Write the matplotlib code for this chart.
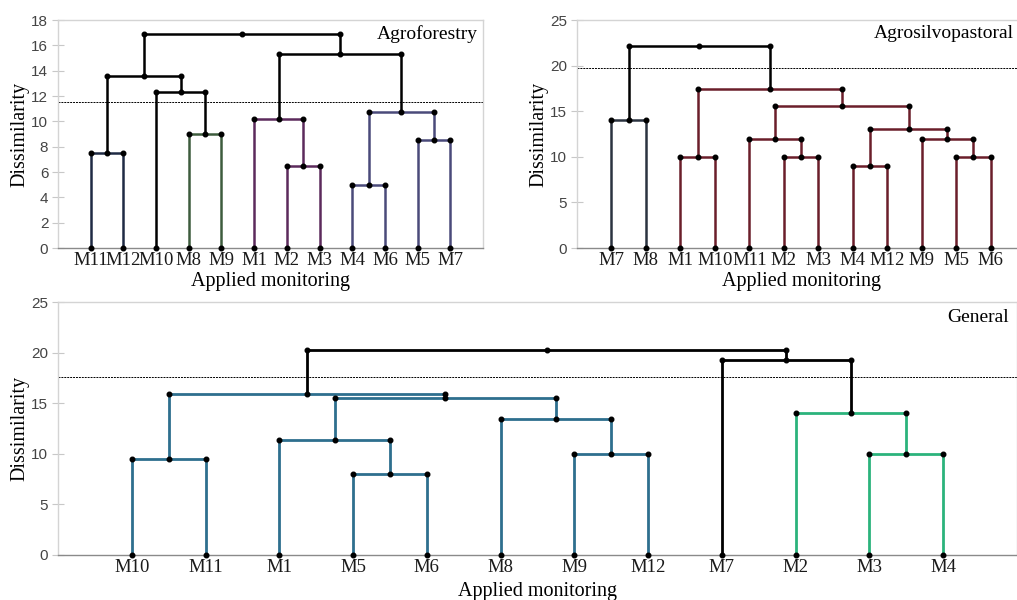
import matplotlib
matplotlib.use("Agg")
import matplotlib.pyplot as plt

# Agroforestry
af_leaves = ["M11", "M12", "M10", "M8", "M9", "M1", "M2", "M3", "M4", "M6", "M5", "M7"]
# merges: left node, right node, height, colour - nodes 0..11 are leaves, 12+ are merges
af_left = [0, 3, 6, 8, 10, 5, 15, 2, 12, 17, 20]
af_right = [1, 4, 7, 9, 11, 14, 16, 13, 19, 18, 21]
af_height = [7.5, 9.0, 6.5, 5.0, 8.5, 10.2, 10.7, 12.3, 13.6, 15.35, 16.9]
af_color = ["#1f2a44", "#3d5c3d", "#5c2a5c", "#4a4a7a", "#4a4a7a", "#5c2a5c",
            "#4a4a7a", "black", "black", "black", "black"]
af_cut = 11.5

# Agrosilvopastoral
asp_leaves = ["M7", "M8", "M1", "M10", "M11", "M2", "M3", "M4", "M12", "M9", "M5", "M6"]
asp_left = [0, 2, 5, 7, 10, 4, 9, 15, 17, 13, 12]
asp_right = [1, 3, 6, 8, 11, 14, 16, 18, 19, 20, 21]
asp_height = [14.0, 10.0, 10.0, 9.0, 10.0, 12.0, 12.0, 13.0, 15.6, 17.45, 22.1]
asp_color = ["#2b3340"] + ["#6b1e2a"] * 9 + ["black"]
asp_cut = 19.7

# General
gen_leaves = ["M10", "M11", "M1", "M5", "M6", "M8", "M9", "M12", "M7", "M2", "M3", "M4"]
gen_left = [0, 3, 6, 10, 2, 5, 9, 16, 12, 8, 20]
gen_right = [1, 4, 7, 11, 13, 14, 15, 17, 19, 18, 21]
gen_height = [9.5, 8.0, 10.0, 10.0, 11.35, 13.4, 14.05, 15.55, 15.9, 19.25, 20.25]
gen_color = ["#2e6f8e", "#2e6f8e", "#2e6f8e", "#2bb37c", "#2e6f8e", "#2e6f8e",
             "#2bb37c", "#2e6f8e", "#2e6f8e", "black", "black"]
gen_cut = 17.6

SERIF = "Liberation Serif"
SANS = "Liberation Sans"


def dendro(ax, leaves, left, right, height, color, cut, ymax, ystep, title, lw, toff):
    n = len(leaves)
    xs = {i: i + 1 for i in range(n)}
    hs = {i: 0.0 for i in range(n)}
    for k in range(len(left)):
        a, b, h, c = left[k], right[k], height[k], color[k]
        xa, xb = xs[a], xs[b]
        ax.plot([xa, xa, xb, xb], [hs[a], h, h, hs[b]], color=c, lw=lw,
                solid_joinstyle="miter", zorder=2)
        xm = (xa + xb) / 2
        ax.plot([xa, xm, xb], [h, h, h], "o", color="black", ms=3.3, zorder=3)
        xs[n + k] = xm
        hs[n + k] = h
    ax.plot(range(1, n + 1), [0] * n, "o", color="black", ms=3.3, zorder=3,
            clip_on=False)
    ax.axhline(cut, color="black", lw=0.7, ls=(0, (2, 1)), zorder=1)

    ax.set_xlim(0, n + 1)
    ax.set_ylim(0, ymax)
    ax.set_yticks(range(0, ymax + 1, ystep))
    ax.set_xticks(range(1, n + 1))
    ax.set_xticklabels(leaves, fontfamily=SERIF, fontsize=13.5, color="#1a1a1a")
    ax.tick_params(axis="x", length=0, pad=3)
    ax.tick_params(axis="y", direction="inout", length=8, color="#c8c8c8",
                   labelsize=11, labelcolor="#444444", pad=3)
    for t in ax.get_yticklabels():
        t.set_fontfamily(SANS)
    for s in ["left", "top", "right"]:
        ax.spines[s].set_color("#d4d4d4")
        ax.spines[s].set_linewidth(1)
    ax.spines["bottom"].set_color("#8a8a8a")
    ax.spines["bottom"].set_linewidth(1)
    ax.set_ylabel("Dissimilarity", fontfamily=SERIF, fontsize=14.5, labelpad=1)
    ax.set_xlabel("Applied monitoring", fontfamily=SERIF, fontsize=14.5, labelpad=2)
    ax.annotate(title, xy=(1, 1), xycoords="axes fraction", xytext=toff,
                textcoords="offset pixels", ha="right", va="center",
                fontfamily=SERIF, fontsize=14)


W, H = 1017, 600
fig = plt.figure(figsize=(W / 100, H / 100), dpi=100)

ax1 = fig.add_axes([58 / W, 1 - 248 / H, 425 / W, 228 / H])
dendro(ax1, af_leaves, af_left, af_right, af_height, af_color, af_cut, 18, 2,
       "Agroforestry", 1.8, (-5, -14))

ax2 = fig.add_axes([577 / W, 1 - 248 / H, 448 / W, 228 / H])
dendro(ax2, asp_leaves, asp_left, asp_right, asp_height, asp_color, asp_cut, 25, 5,
       "Agrosilvopastoral", 1.8, (-11, -14))

ax3 = fig.add_axes([58 / W, 1 - 555 / H, 959 / W, 253 / H])
dendro(ax3, gen_leaves, gen_left, gen_right, gen_height, gen_color, gen_cut, 25, 5,
       "General", 2.0, (-8, -15))
ax3.xaxis.labelpad = 4

fig.savefig("out.png", dpi=100)
